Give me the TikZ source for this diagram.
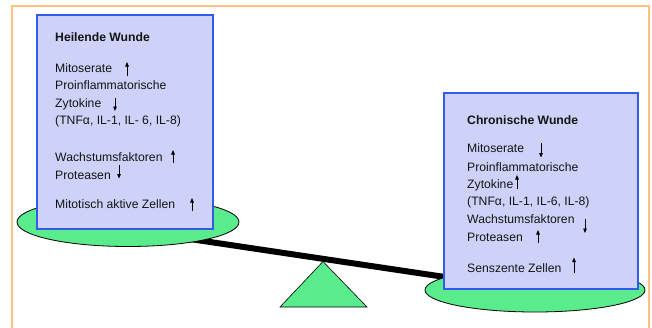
\documentclass[tikz,border=0pt]{standalone}
\usepackage{fontspec}
\setmainfont{Liberation Sans}
\usetikzlibrary{arrows.meta,shapes.geometric}
\definecolor{frameorange}{RGB}{255,192,128}
\definecolor{boxfill}{RGB}{206,210,248}
\definecolor{boxline}{RGB}{50,90,235}
\definecolor{scalegreen}{RGB}{90,236,140}
\tikzset{
  txt/.style={anchor=base west, inner sep=0pt, font=\fontsize{12.2}{14}\selectfont, text=black!92},
  ttl/.style={txt, font=\fontsize{12.2}{14}\selectfont\bfseries},
  panel/.style={draw=boxline, line width=2.4pt, fill=boxfill},
  pan/.style={draw=black, line width=0.8pt, fill=scalegreen},
  arr/.style={line width=0.9pt, -{Triangle[width=3.6pt,length=4.5pt]}},
}
\begin{document}
\begin{tikzpicture}[x=1pt,y=-1pt]
\useasboundingbox (0,0) rectangle (652,327);
\fill[white] (0,0) rectangle (652,327);
% frame
\draw[frameorange, line width=2pt] (12,330) -- (12,6) -- (649,6) -- (649,330);
% beam
\coordinate (beamA) at (180,237.5);
\coordinate (beamB) at (455,278.5);
\draw[line width=6pt] (beamA) -- (beamB);
% fulcrum
\coordinate (apex) at (323,261.5);
\draw[line width=0.6pt, fill=scalegreen] (apex) -- (367,307) -- (280,307) -- cycle;
% pans
\node[pan, ellipse, minimum width=222pt, minimum height=49pt, inner sep=0pt] (panL) at (128,222) {};
\node[pan, ellipse, minimum width=220pt, minimum height=44pt, inner sep=0pt] (panR) at (535,290) {};
% boxes
\draw[panel] (37,15) rectangle (213,229);
\draw[panel] (444,93) rectangle (638,289);
% left texts
\node[ttl] (l0) at (55,41.5) {Heilende Wunde};
\node[txt] (l1) at (55,72.5) {Mitoserate};
\node[txt] (l2) at (55,89.5) {Proinflammatorische};
\node[txt] (l3) at (55,107) {Zytokine};
\node[txt] (l4) at (55,124.5) {(TNFα, IL-1, IL- 6, IL-8)};
\node[txt] (l5) at (55,161.5) {Wachstumsfaktoren};
\node[txt] (l6) at (55,179) {Proteasen};
\node[txt] (l7) at (55,208.5) {Mitotisch aktive Zellen};
% left arrows
\draw[arr] (127,76) -- (127,62);
\draw[arr] (115,98) -- (115,111);
\draw[arr] (173,163) -- (173,150);
\draw[arr] (119,165) -- (119,178.5);
\draw[arr] (192,211) -- (192,198);
% right texts
\node[ttl] (r0) at (467,124) {Chronische Wunde};
\node[txt] (r1) at (467,152) {Mitoserate};
\node[txt] (r2) at (467,171) {Proinflammatorische};
\node[txt] (r3) at (467,188) {Zytokine};
\node[txt] (r4) at (467,205) {(TNFα, IL-1, IL-6, IL-8)};
\node[txt] (r5) at (467,223) {Wachstumsfaktoren};
\node[txt] (r6) at (467,241) {Proteasen};
\node[txt] (r7) at (467,272) {Senszente Zellen};
% right arrows
\draw[arr] (541,143) -- (541,157.5);
\draw[arr] (517,189) -- (517,175);
\draw[arr] (585,219) -- (585,233);
\draw[arr] (538,243) -- (538,230);
\draw[arr] (574,273) -- (574,257.5);
\end{tikzpicture}
\end{document}
